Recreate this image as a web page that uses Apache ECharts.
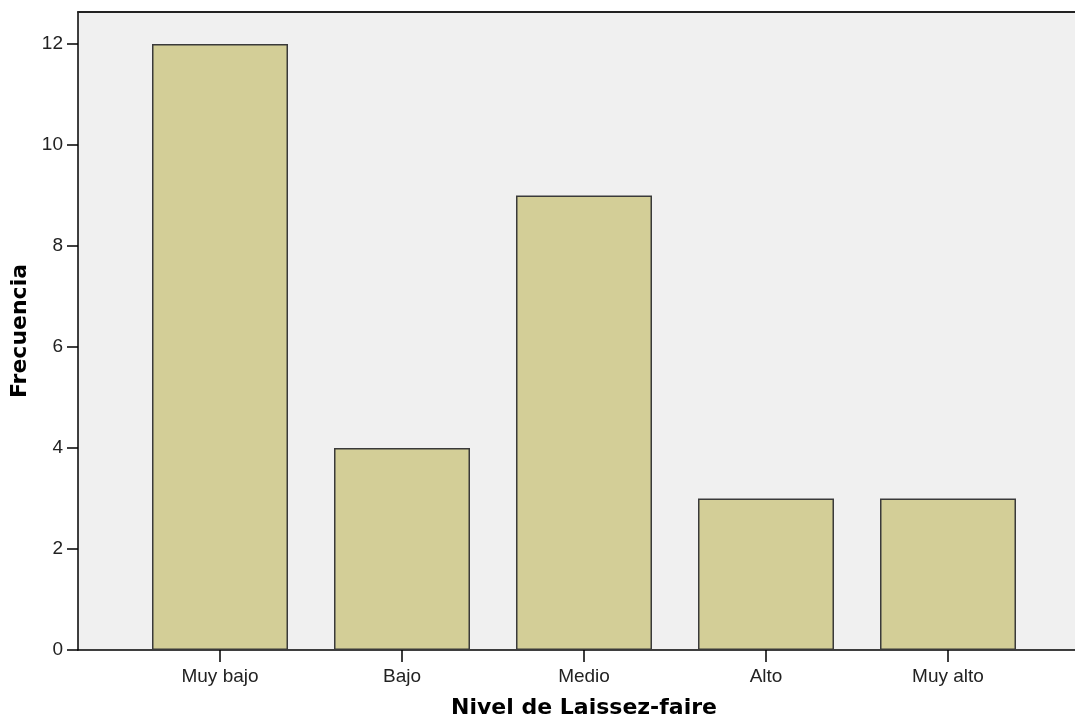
<!DOCTYPE html>
<html>
<head>
<meta charset="utf-8">
<script src="https://cdn.jsdelivr.net/npm/echarts@6/dist/echarts.min.js"></script>
<style>html,body{margin:0;padding:0;background:#fff;}#c{width:1075px;height:722px;}</style>
</head>
<body>
<div id="c"></div>
<script>
var categories = ['Muy bajo', 'Bajo', 'Medio', 'Alto', 'Muy alto'];
var frecuencia = [12, 4, 9, 3, 3];
var yTicks = [0, 2, 4, 6, 8, 10, 12];
var yMax = 12.634;

var chart = echarts.init(document.getElementById('c'), null, {renderer: 'canvas'});
var labelFont = 'Liberation Sans, Arial, sans-serif';
var titleFont = 'DejaVu Sans, sans-serif';
chart.setOption({
  animation: false,
  backgroundColor: '#ffffff',
  grid: [
    {left: 78, top: 12, width: 1012, height: 638, show: true, backgroundColor: '#f0f0f0', borderWidth: 0, containLabel: false, outerBoundsMode: 'none'},
    {left: 129, top: 12, width: 910, height: 638, show: false, containLabel: false, outerBoundsMode: 'none'}
  ],
  xAxis: [
    {gridIndex: 0, type: 'value', min: 0, max: 1, position: 'bottom',
     axisLine: {show: true, lineStyle: {color: '#000', width: 1.5}},
     axisTick: {show: false}, axisLabel: {show: false}, splitLine: {show: false},
     name: 'Nivel de Laissez-faire', nameLocation: 'middle', nameGap: 47,
     nameTextStyle: {fontFamily: titleFont, fontWeight: 'bold', fontSize: 22, color: '#000'}},
    {gridIndex: 0, type: 'value', min: 0, max: 1, position: 'top',
     axisLine: {show: true, lineStyle: {color: '#222', width: 2}},
     axisTick: {show: false}, axisLabel: {show: false}, splitLine: {show: false}},
    {gridIndex: 1, type: 'category', data: categories, position: 'bottom',
     axisLine: {show: false},
     axisTick: {show: true, alignWithLabel: true, length: 12, lineStyle: {color: '#000', width: 1.5}},
     axisLabel: {fontFamily: labelFont, fontSize: 19, color: '#222', margin: 17}}
  ],
  yAxis: [
    {gridIndex: 0, type: 'value', min: 0, max: yMax, interval: 2,
     axisLine: {show: true, lineStyle: {color: '#000', width: 1.5}},
     axisTick: {show: true, length: 11, customValues: yTicks, lineStyle: {color: '#000', width: 1.5}},
     axisLabel: {customValues: yTicks, fontFamily: labelFont, fontSize: 19, color: '#222', margin: 15},
     splitLine: {show: false},
     name: 'Frecuencia', nameLocation: 'middle', nameGap: 44, nameRotate: 90,
     nameTextStyle: {fontFamily: titleFont, fontWeight: 'bold', fontSize: 22, color: '#000'}},
    {gridIndex: 1, type: 'value', min: 0, max: yMax, show: false}
  ],
  series: [{
    type: 'bar', xAxisIndex: 2, yAxisIndex: 1,
    data: frecuencia, barWidth: 136,
    itemStyle: {color: '#d3ce97', borderColor: '#3a3a3a', borderWidth: 1.5}
  }]
});
</script>
</body>
</html>
